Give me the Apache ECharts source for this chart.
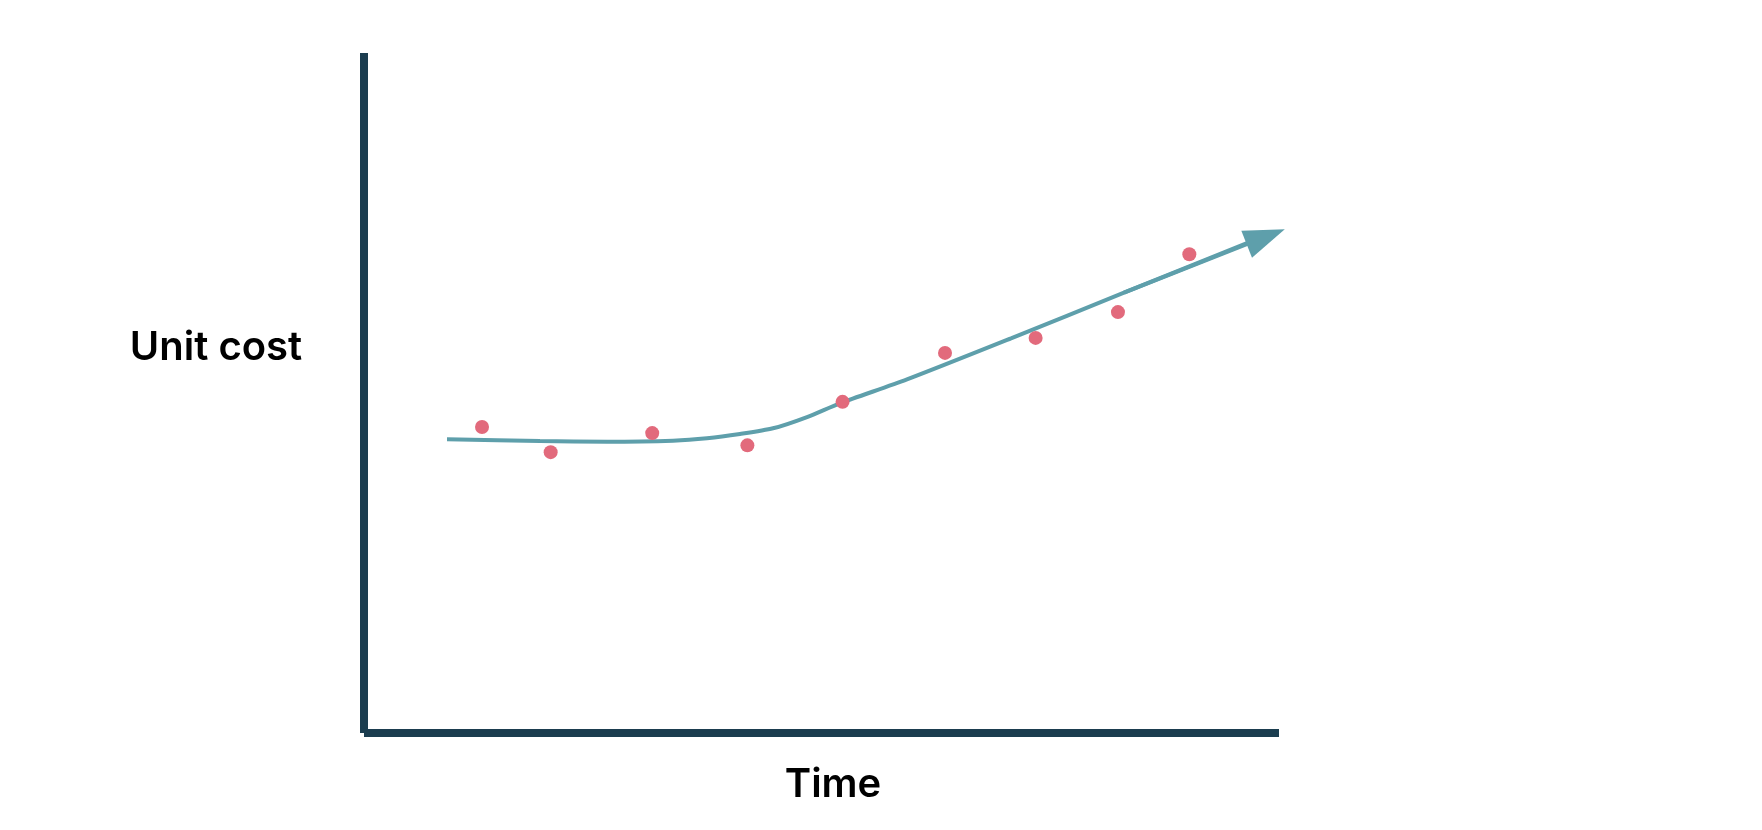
<!DOCTYPE html>
<html>
<head>
<meta charset="utf-8">
<script src="https://cdn.jsdelivr.net/npm/echarts@6/dist/echarts.min.js"></script>
<style>
html,body{margin:0;padding:0;background:#fff;}
#chart{width:1762px;height:830px;}
</style>
</head>
<body>
<div id="chart"></div>
<script>
// Observed data points (time, unit cost), axis range 0..100
const pointTime = [12.9, 20.4, 31.5, 41.9, 52.3, 63.5, 73.4, 82.4, 90.2];
const pointCost = [45.0, 41.3, 44.1, 42.3, 48.7, 55.9, 58.1, 61.9, 70.4];
// Trend line
const trendTime = [9.07, 19.23, 26.56, 33.77, 37.49, 41.09, 44.70, 48.42, 52.02, 59.34, 70.71, 83.06, 96.50];
const trendCost = [43.19, 42.94, 42.84, 42.99, 43.34, 43.97, 44.81, 46.47, 48.49, 52.0, 58.04, 64.75, 72.03];
// Arrow head segment (start, head centre)
const arrowTime = [83.06, 98.55];
const arrowCost = [64.75, 72.98];
const xLabel = 'Time';
const yLabel = 'Unit cost';

const axisColor = '#1b3d4f';
const lineColor = '#5e9fab';
const dotColor = '#e26a7c';

const chart = echarts.init(document.getElementById('chart'));
chart.setOption({
  animation: false,
  grid: {left: 364, right: 483, top: 53, bottom: 97},
  xAxis: {
    type: 'value', min: 0, max: 100,
    axisLine: {show: true, lineStyle: {color: axisColor, width: 8, cap: 'butt'}},
    axisTick: {show: false}, axisLabel: {show: false}, splitLine: {show: false}
  },
  yAxis: {
    type: 'value', min: 0, max: 100,
    axisLine: {show: true, lineStyle: {color: axisColor, width: 8, cap: 'butt'}},
    axisTick: {show: false}, axisLabel: {show: false}, splitLine: {show: false}
  },
  graphic: [
    {type: 'text', x: 216, y: 348, style: {text: yLabel, font: '600 40px Inter', fill: '#000', align: 'center', verticalAlign: 'middle'}},
    {type: 'text', x: 833, y: 785, style: {text: xLabel, font: '600 40px Inter', fill: '#000', align: 'center', verticalAlign: 'middle'}}
  ],
  series: [
    {
      type: 'line',
      data: trendTime.map((t, i) => [t, trendCost[i]]),
      smooth: 0.25,
      showSymbol: false,
      lineStyle: {color: lineColor, width: 4},
      z: 2,
      markLine: {
        silent: true,
        symbol: ['none', 'triangle'],
        symbolSize: [29, 41],
        label: {show: false},
        lineStyle: {color: lineColor, width: 4, type: 'solid'},
        itemStyle: {color: lineColor},
        data: [[{coord: [arrowTime[0], arrowCost[0]]}, {coord: [arrowTime[1], arrowCost[1]]}]]
      }
    },
    {
      type: 'scatter',
      data: pointTime.map((t, i) => [t, pointCost[i]]),
      symbolSize: 14,
      itemStyle: {color: dotColor, opacity: 1},
      z: 3
    }
  ]
});
</script>
</body>
</html>
